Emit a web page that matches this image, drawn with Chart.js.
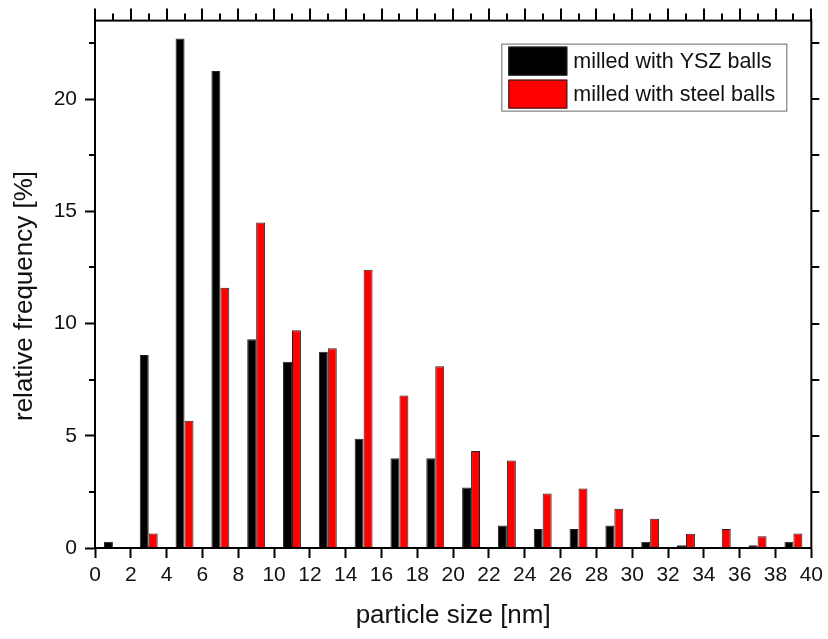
<!DOCTYPE html>
<html>
<head>
<meta charset="utf-8">
<script src="https://cdn.jsdelivr.net/npm/chart.js@4.4.1/dist/chart.umd.min.js"></script>
<style>
  body { margin: 0; background: #fff; }
  #wrap { width: 828px; height: 639px; }
</style>
</head>
<body>
<div id="wrap"><canvas id="myChart" width="828" height="639"></canvas></div>
<script>
// particle size bins (nm) - bar centres
var sizes = [1, 3, 5, 7, 9, 11, 13, 15, 17, 19, 21, 23, 25, 27, 29, 31, 33, 35, 37, 39];
// relative frequency [%]
var yszBalls = [0.28, 8.6, 22.7, 21.25, 9.3, 8.3, 8.75, 4.87, 4.0, 4.0, 2.7, 1.0, 0.85, 0.85, 1.0, 0.28, 0.12, 0, 0.12, 0.28];
var steelBalls = [0, 0.65, 5.67, 11.6, 14.5, 9.7, 8.9, 12.4, 6.8, 8.1, 4.32, 3.9, 2.43, 2.65, 1.75, 1.3, 0.63, 0.85, 0.52, 0.65];

var xTicks = [0, 2, 4, 6, 8, 10, 12, 14, 16, 18, 20, 22, 24, 26, 28, 30, 32, 34, 36, 38, 40];
var yTicks = [0, 5, 10, 15, 20];
var seriesNames = ['milled with YSZ balls', 'milled with steel balls'];
var yTitle = 'relative frequency [%]';

var FONT = "'Liberation Sans', Arial, sans-serif";
Chart.defaults.font.family = FONT;
Chart.defaults.color = '#111';

function points(vals) {
    return sizes.map(function (s, i) { return {x: s, y: vals[i]}; });
}

// frame, minor ticks, top/right ticks, y title and the boxed legend
var framePlugin = {
    id: 'frame',
    afterDatasetsDraw: function (chart) {
        var ctx = chart.ctx, a = chart.chartArea, x = chart.scales.x, y = chart.scales.y;
        ctx.save();
        ctx.strokeStyle = '#000';
        ctx.lineWidth = 2;
        ctx.strokeRect(a.left, a.top, a.right - a.left, a.bottom - a.top);
        ctx.beginPath();
        for (var v = 0; v <= 40; v++) {
            var px = Math.round(x.getPixelForValue(v));
            ctx.moveTo(px, a.top);
            ctx.lineTo(px, a.top - (v % 2 === 0 ? 12 : 7));
        }
        for (var w = 2.5; w < 23.5; w += 5) {
            var py = Math.round(y.getPixelForValue(w));
            ctx.moveTo(a.left, py);
            ctx.lineTo(a.left - 6, py);
        }
        for (var u = 2.5; u < 23.5; u += 2.5) {
            var qy = Math.round(y.getPixelForValue(u));
            ctx.moveTo(a.right, qy);
            ctx.lineTo(a.right + 8, qy);
        }
        ctx.stroke();

        // y axis title
        ctx.save();
        ctx.translate(25, 296);
        ctx.rotate(-Math.PI / 2);
        ctx.fillStyle = '#111';
        ctx.font = '26px ' + FONT;
        ctx.textAlign = 'center';
        ctx.textBaseline = 'middle';
        ctx.fillText(yTitle, 0, 0);
        ctx.restore();

        // legend
        var bx = a.right - 310, by = a.top + 23, bw = 285, bh = 67;
        ctx.fillStyle = '#fff';
        ctx.fillRect(bx, by, bw, bh);
        ctx.lineWidth = 1;
        ctx.strokeStyle = '#666';
        ctx.strokeRect(bx + 0.5, by + 0.5, bw, bh);
        chart.data.datasets.forEach(function (ds, i) {
            var ry = by + 3 + i * 33;
            ctx.fillStyle = ds.backgroundColor;
            ctx.fillRect(bx + 7, ry, 59, 29);
            ctx.strokeStyle = '#222';
            ctx.strokeRect(bx + 7.5, ry + 0.5, 58, 28);
            ctx.fillStyle = '#111';
            ctx.font = '21.5px ' + FONT;
            ctx.textBaseline = 'middle';
            ctx.fillText(ds.label, bx + 72, ry + 15);
        });
        ctx.restore();
    }
};

var ctx = document.getElementById('myChart').getContext('2d');
var chart = new Chart(ctx, {
    type: 'bar',
    data: {
        datasets: [{
            label: seriesNames[0],
            data: points(yszBalls),
            backgroundColor: '#000000',
            borderColor: '#222',
            borderWidth: 1
        }, {
            label: seriesNames[1],
            data: points(steelBalls),
            backgroundColor: '#ff0000',
            borderColor: '#222',
            borderWidth: 1
        }]
    },
    options: {
        responsive: false,
        animation: false,
        categoryPercentage: 0.5,
        barPercentage: 1.0,
        layout: { padding: { top: 19, right: 14, left: 0, bottom: 0 } },
        plugins: { legend: { display: false }, tooltip: { enabled: false } },
        scales: {
            x: {
                type: 'linear',
                min: 0,
                max: 40,
                offset: false,
                afterFit: function (s) { s.height = 91; },
                afterBuildTicks: function (s) { s.ticks = xTicks.map(function (v) { return {value: v}; }); },
                grid: { display: true, drawOnChartArea: false, offset: false, tickLength: 10, tickWidth: 2, color: '#000' },
                border: { display: true, color: '#000', width: 2 },
                ticks: { font: { size: 21 }, padding: 5, maxRotation: 0, autoSkip: false },
                title: { display: true, text: 'particle size [nm]', font: { size: 26 }, padding: { top: 0, bottom: 8 } }
            },
            y: {
                min: 0,
                max: 23.5,
                afterFit: function (s) { s.width = 95; },
                afterBuildTicks: function (s) { s.ticks = yTicks.map(function (v) { return {value: v}; }); },
                grid: { display: true, drawOnChartArea: false, tickLength: 10, tickWidth: 2, color: '#000' },
                border: { display: true, color: '#000', width: 2 },
                ticks: { font: { size: 21 }, padding: 8 },
                title: { display: false }
            }
        }
    },
    plugins: [framePlugin]
});
</script>
</body>
</html>
